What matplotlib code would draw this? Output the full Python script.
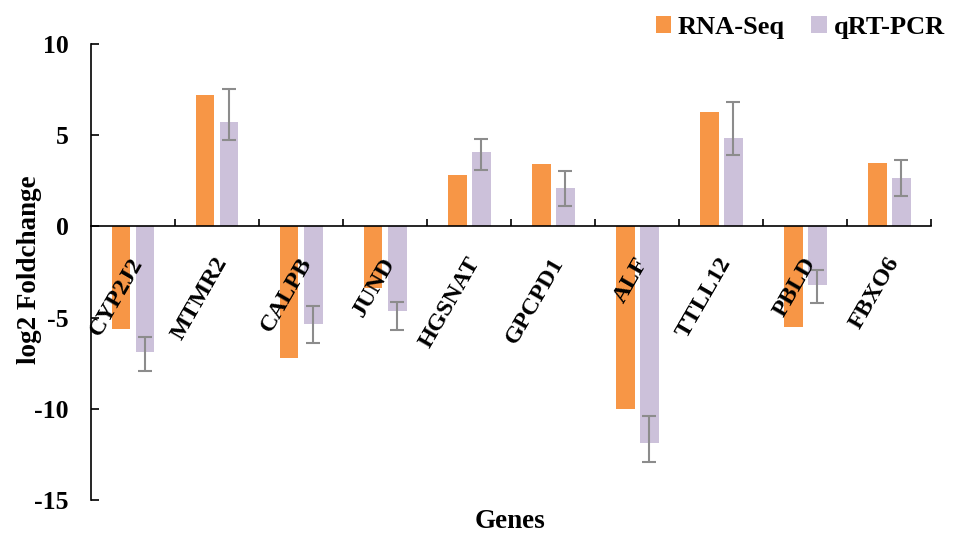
import numpy as np
import matplotlib
matplotlib.use('Agg')
import matplotlib.pyplot as plt

# data
genes = ['CYP2J2', 'MTMR2', 'CALPB', 'JUND', 'HGSNAT',
         'GPCPD1', 'ALF', 'TTLL12', 'PBLD', 'FBXO6']
rna_seq = [-5.6, 7.2, -7.2, -3.4, 2.8, 3.4, -10.0, 6.3, -5.5, 3.45]
qrt_pcr = [-6.9, 5.75, -5.35, -4.65, 4.1, 2.1, -11.9, 4.85, -3.2, 2.65]
# error bar ends (low, high)
err_low = [-7.95, 4.75, -6.4, -5.7, 3.1, 1.1, -12.9, 3.9, -4.2, 1.65]
err_high = [-6.05, 7.55, -4.35, -4.15, 4.8, 3.05, -10.4, 6.8, -2.4, 3.65]
yticks = [-15, -10, -5, 0, 5, 10]

plt.rcParams['font.family'] = ['Liberation Serif', 'DejaVu Serif']
plt.rcParams['font.weight'] = 'bold'

fig = plt.figure(figsize=(9.55, 5.33), dpi=100)
ax = fig.add_axes([0.0953, 0.062, 0.8797, 0.8554])

x = np.arange(len(genes))
w = 0.225
off = 0.143
qrt = np.array(qrt_pcr)
yerr = [qrt - np.array(err_low), np.array(err_high) - qrt]

ax.bar(x - off, rna_seq, w, color='#F79646', label='RNA-Seq', zorder=2)
ax.bar(x + off, qrt_pcr, w, color='#CCC1DA', label='qRT-PCR', zorder=2)
ax.errorbar(x + off, qrt_pcr, yerr=yerr, fmt='none', ecolor='#8C8C8C',
            elinewidth=1.5, capsize=5, capthick=1.5, zorder=3)

ax.set_xlim(-0.5, len(genes) - 0.5)
ax.set_ylim(-15, 10)
ax.set_yticks(yticks)
ax.set_yticklabels([str(t) for t in yticks], fontsize=18.5, fontweight='bold')
ax.tick_params(axis='y', direction='in', length=6, width=1.2, pad=16)

# category boundary ticks on the zero line
ax.set_xticks(np.arange(len(genes)) + 0.5)
ax.set_xticklabels([])
ax.tick_params(axis='x', direction='in', length=5, width=1.2)

ax.spines['top'].set_visible(False)
ax.spines['right'].set_visible(False)
ax.spines['bottom'].set_position(('data', 0))
ax.spines['left'].set_linewidth(1.2)
ax.spines['bottom'].set_linewidth(1.2)

for i, g in enumerate(genes):
    ax.text(i - 0.04, -1.5, g, rotation=60, ha='right', va='top',
            rotation_mode='anchor', fontsize=17.5, fontweight='bold', zorder=4)

fig.text(29 / 955, 1 - 270 / 533, 'log2 Foldchange', rotation=90, ha='center',
         va='center', fontsize=19.5, fontweight='bold')
fig.text(510 / 955, 1 - 521 / 533, 'Genes', ha='center', va='center',
         fontsize=19.5, fontweight='bold')

leg = fig.legend(loc='upper right', bbox_to_anchor=(945 / 955, 1 - 16 / 533),
                 ncol=2, frameon=False, prop={'weight': 'bold', 'size': 19},
                 handlelength=0.6, handleheight=0.6, handletextpad=0.25,
                 columnspacing=1.0, borderpad=0, borderaxespad=0)

fig.savefig('out.png', dpi=100)
